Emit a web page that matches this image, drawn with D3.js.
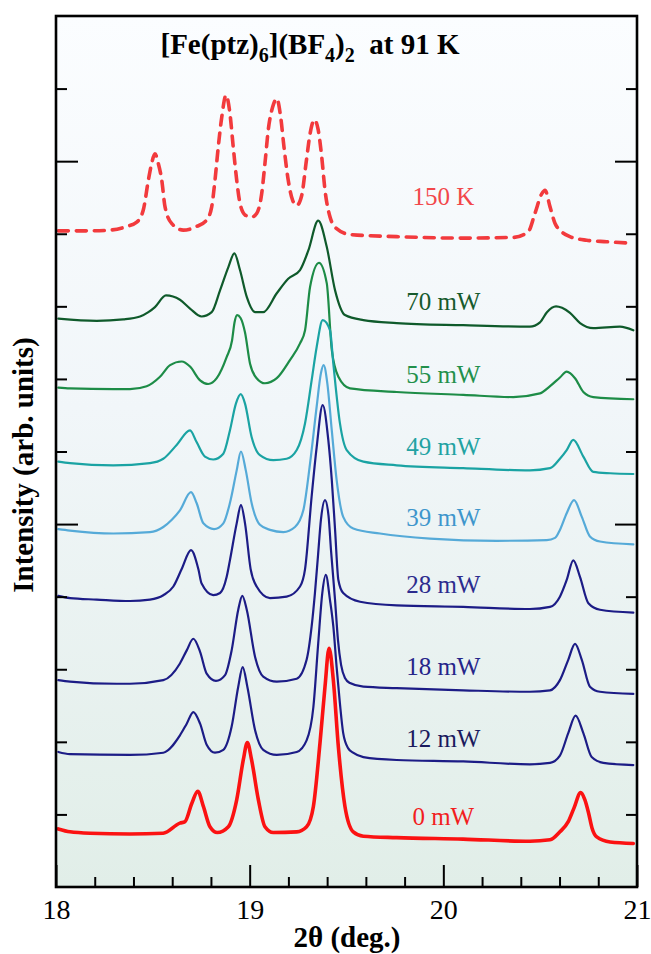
<!DOCTYPE html>
<html>
<head>
<meta charset="utf-8">
<script src="https://cdn.jsdelivr.net/npm/d3@7"></script>
<style>
  html, body { margin: 0; padding: 0; background: #ffffff; }
  svg { display: block; }
  text { font-family: "Liberation Serif", "Times New Roman", serif; }
</style>
</head>
<body>
<svg id="chart" width="651" height="954"></svg>
<script>
// Powder diffraction patterns, 2θ (deg.) vs offset intensity (arb. units)
const pattern150K = [
  [18.012, 9.04], [18.176, 9.04], [18.279, 9.05], [18.365, 9.10], [18.417, 9.16],
  [18.451, 9.33], [18.477, 9.74], [18.494, 9.97], [18.511, 10.10], [18.528, 9.97],
  [18.546, 9.74], [18.563, 9.37], [18.598, 9.14], [18.657, 9.05], [18.726, 9.10],
  [18.778, 9.19], [18.804, 9.37], [18.821, 9.74], [18.838, 10.20], [18.856, 10.61],
  [18.878, 10.91], [18.898, 10.66], [18.915, 10.20], [18.933, 9.74], [18.950, 9.42],
  [18.976, 9.26], [19.010, 9.23], [19.036, 9.28], [19.062, 9.55], [19.079, 9.97],
  [19.096, 10.43], [19.119, 10.75], [19.140, 10.86], [19.160, 10.61], [19.177, 10.20],
  [19.199, 9.74], [19.222, 9.46], [19.243, 9.39], [19.269, 9.53], [19.291, 9.97],
  [19.312, 10.38], [19.334, 10.57], [19.354, 10.43], [19.372, 10.06], [19.389, 9.60],
  [19.415, 9.23], [19.449, 9.07], [19.518, 8.99], [19.759, 8.96], [20.103, 8.94],
  [20.361, 8.95], [20.439, 9.03], [20.473, 9.28], [20.508, 9.55], [20.525, 9.60],
  [20.551, 9.37], [20.577, 9.14], [20.602, 9.05], [20.654, 8.96], [20.740, 8.91],
  [20.843, 8.89], [20.964, 8.87]
];

const pattern70mW = [
  [18.012, 7.83], [18.210, 7.80], [18.347, 7.82], [18.434, 7.86], [18.477, 7.92],
  [18.511, 7.99], [18.568, 8.15], [18.640, 8.09], [18.692, 7.97], [18.752, 7.86],
  [18.804, 7.92], [18.847, 8.22], [18.890, 8.54], [18.921, 8.73], [18.950, 8.50],
  [18.985, 8.13], [19.028, 7.92], [19.070, 7.92], [19.140, 8.18], [19.199, 8.38],
  [19.260, 8.50], [19.303, 8.77], [19.354, 9.18], [19.398, 8.82], [19.441, 8.22],
  [19.492, 7.88], [19.587, 7.81], [19.759, 7.77], [20.103, 7.74], [20.447, 7.72],
  [20.499, 7.78], [20.535, 7.92], [20.582, 8.00], [20.613, 7.98], [20.654, 7.91],
  [20.706, 7.77], [20.774, 7.70], [20.912, 7.72], [20.981, 7.67]
];

const pattern55mW = [
  [18.012, 6.88], [18.072, 6.87], [18.296, 6.86], [18.382, 6.86], [18.468, 6.90],
  [18.537, 7.03], [18.589, 7.19], [18.649, 7.24], [18.692, 7.17], [18.744, 6.98],
  [18.786, 6.93], [18.830, 7.01], [18.881, 7.30], [18.909, 7.53], [18.922, 7.78],
  [18.935, 7.88], [18.953, 7.84], [18.976, 7.64], [19.002, 7.21], [19.036, 7.01],
  [19.079, 6.94], [19.140, 7.01], [19.208, 7.26], [19.260, 7.49], [19.286, 7.67],
  [19.312, 8.27], [19.358, 8.60], [19.398, 8.32], [19.424, 7.40], [19.458, 7.03],
  [19.518, 6.87], [19.759, 6.82], [20.103, 6.78], [20.361, 6.75], [20.499, 6.80],
  [20.551, 6.90], [20.602, 7.02], [20.637, 7.10], [20.680, 7.01], [20.723, 6.82],
  [20.774, 6.75], [20.981, 6.72]
];

const pattern49mW = [
  [18.012, 5.86], [18.072, 5.84], [18.296, 5.81], [18.485, 5.84], [18.554, 5.90],
  [18.623, 6.09], [18.692, 6.29], [18.726, 6.13], [18.769, 5.93], [18.812, 5.89],
  [18.864, 5.97], [18.898, 6.29], [18.929, 6.66], [18.954, 6.79], [18.976, 6.66],
  [19.010, 6.20], [19.053, 5.95], [19.122, 5.88], [19.191, 5.90], [19.243, 6.02],
  [19.286, 6.39], [19.320, 6.98], [19.346, 7.44], [19.377, 7.81], [19.415, 7.67],
  [19.432, 7.21], [19.466, 6.39], [19.501, 6.02], [19.587, 5.86], [19.759, 5.81],
  [20.103, 5.77], [20.447, 5.74], [20.551, 5.77], [20.602, 5.90], [20.637, 6.02],
  [20.671, 6.16], [20.723, 5.93], [20.774, 5.72], [20.861, 5.70], [20.981, 5.69]
];

const pattern39mW = [
  [18.012, 4.93], [18.072, 4.91], [18.296, 4.87], [18.485, 4.89], [18.554, 4.96],
  [18.598, 5.06], [18.640, 5.19], [18.697, 5.44], [18.726, 5.29], [18.761, 5.01],
  [18.816, 4.93], [18.864, 5.01], [18.898, 5.29], [18.933, 5.74], [18.955, 6.00],
  [18.980, 5.74], [19.010, 5.29], [19.053, 4.99], [19.105, 4.92], [19.174, 4.89],
  [19.234, 4.96], [19.277, 5.19], [19.312, 5.84], [19.346, 6.62], [19.368, 7.08],
  [19.382, 7.19], [19.401, 6.94], [19.424, 6.29], [19.449, 5.61], [19.483, 5.10],
  [19.535, 4.94], [19.673, 4.87], [19.931, 4.80], [20.276, 4.77], [20.534, 4.78],
  [20.577, 4.81], [20.602, 4.92], [20.637, 5.15], [20.675, 5.33], [20.715, 5.10],
  [20.757, 4.83], [20.809, 4.76], [20.981, 4.72]
];

const pattern28mW = [
  [18.012, 4.01], [18.072, 3.98], [18.210, 3.96], [18.382, 3.94], [18.485, 3.96],
  [18.554, 4.02], [18.606, 4.14], [18.649, 4.38], [18.697, 4.64], [18.735, 4.38],
  [18.752, 4.18], [18.812, 4.02], [18.847, 4.05], [18.881, 4.27], [18.898, 4.50],
  [18.933, 5.01], [18.955, 5.26], [18.976, 5.01], [19.005, 4.38], [19.036, 4.14],
  [19.105, 3.98], [19.191, 4.00], [19.260, 4.14], [19.286, 4.38], [19.320, 5.38],
  [19.346, 6.06], [19.377, 6.64], [19.406, 6.16], [19.424, 5.61], [19.441, 4.92],
  [19.458, 4.23], [19.483, 4.05], [19.570, 3.93], [19.759, 3.88], [20.103, 3.86],
  [20.447, 3.83], [20.551, 3.86], [20.602, 4.00], [20.637, 4.23], [20.671, 4.50],
  [20.706, 4.27], [20.749, 3.91], [20.809, 3.82], [20.981, 3.78]
];

const pattern18mW = [
  [18.012, 2.85], [18.072, 2.83], [18.313, 2.80], [18.382, 2.80], [18.554, 2.85],
  [18.640, 3.08], [18.675, 3.26], [18.709, 3.42], [18.744, 3.24], [18.778, 2.94],
  [18.826, 2.84], [18.873, 2.92], [18.907, 3.26], [18.941, 3.82], [18.962, 4.01],
  [18.985, 3.82], [19.028, 3.17], [19.070, 2.90], [19.140, 2.83], [19.243, 2.87],
  [19.294, 3.13], [19.320, 3.59], [19.337, 4.05], [19.353, 4.57], [19.368, 5.06],
  [19.389, 5.33], [19.407, 5.12], [19.420, 4.64], [19.441, 3.95], [19.456, 3.40],
  [19.472, 3.06], [19.492, 2.88], [19.518, 2.81], [19.587, 2.76], [19.759, 2.74],
  [20.103, 2.71], [20.447, 2.69], [20.551, 2.71], [20.602, 2.85], [20.645, 3.13],
  [20.680, 3.35], [20.715, 3.13], [20.757, 2.76], [20.809, 2.69], [20.981, 2.66]
];

const pattern12mW = [
  [18.012, 1.86], [18.072, 1.83], [18.382, 1.82], [18.554, 1.85], [18.640, 2.09],
  [18.675, 2.25], [18.709, 2.41], [18.744, 2.25], [18.778, 1.96], [18.821, 1.85],
  [18.864, 1.89], [18.907, 2.21], [18.941, 2.76], [18.964, 3.03], [18.988, 2.76],
  [19.028, 2.16], [19.070, 1.89], [19.140, 1.82], [19.243, 1.86], [19.294, 2.02],
  [19.329, 2.48], [19.354, 3.36], [19.375, 4.05], [19.393, 4.30], [19.415, 3.95],
  [19.432, 3.59], [19.449, 3.03], [19.466, 2.53], [19.483, 2.12], [19.509, 1.91],
  [19.534, 1.85], [19.587, 1.79], [19.759, 1.75], [20.103, 1.73], [20.447, 1.69],
  [20.551, 1.71], [20.602, 1.81], [20.645, 2.12], [20.683, 2.36], [20.723, 2.12],
  [20.766, 1.79], [20.826, 1.71], [20.981, 1.68]
];

const pattern0mW = [
  [18.012, 0.80], [18.072, 0.76], [18.176, 0.74], [18.382, 0.73], [18.553, 0.74],
  [18.640, 0.88], [18.666, 0.90], [18.701, 1.15], [18.732, 1.32], [18.761, 1.11],
  [18.795, 0.83], [18.833, 0.75], [18.890, 0.83], [18.933, 1.20], [18.967, 1.75],
  [18.988, 1.99], [19.010, 1.75], [19.045, 1.20], [19.079, 0.83], [19.122, 0.75],
  [19.243, 0.76], [19.294, 0.83], [19.329, 1.11], [19.363, 1.98], [19.389, 2.76],
  [19.410, 3.29], [19.432, 2.85], [19.458, 1.93], [19.492, 1.11], [19.535, 0.76],
  [19.587, 0.70], [19.759, 0.68], [20.102, 0.66], [20.447, 0.63], [20.551, 0.65],
  [20.602, 0.76], [20.645, 0.90], [20.675, 1.09], [20.709, 1.30], [20.731, 1.20],
  [20.749, 1.03], [20.768, 0.81], [20.792, 0.69], [20.861, 0.62], [20.981, 0.60]
];

const seriesNames = ["150 K", "70 mW", "55 mW", "49 mW", "39 mW", "28 mW", "18 mW", "12 mW", "0 mW"];
const seriesData = [pattern150K, pattern70mW, pattern55mW, pattern49mW, pattern39mW,
                    pattern28mW, pattern18mW, pattern12mW, pattern0mW];
// vertical anchor (intensity units) of each trace's label, placed at 2θ = 20.0
const labelLevels = [9.39, 7.95, 6.94, 5.95, 4.97, 4.05, 2.92, 1.93, 0.85];

const xMajorTicks = [18, 19, 20, 21];
const xMinorTicks = [18.2, 18.4, 18.6, 18.8, 19.2, 19.4, 19.6, 19.8, 20.2, 20.4, 20.6, 20.8];
const yMajorTicks = [5, 10];
const yMinorTicks = [1, 2, 3, 4, 6, 7, 8, 9, 11];

const lineColors = ["#f23a3d", "#0f5a2b", "#1d8c47", "#1aa3a3", "#55aad8",
                    "#1c1c86", "#1c1c86", "#1c1c86", "#fb1212"];
const labelColors = ["#f2474a", "#165a2d", "#22904b", "#22a2a2", "#3e96cc",
                     "#2c2c8e", "#25258a", "#1a1a5e", "#f21e1e"];

const svg = d3.select("#chart");
const margin = { left: 56, right: 14, top: 16, bottom: 67 };
const W = 651, H = 954;
const plotW = W - margin.left - margin.right;
const plotH = H - margin.top - margin.bottom;

const x = d3.scaleLinear().domain([18, 21]).range([margin.left, margin.left + plotW]);
const y = d3.scaleLinear().domain([0, 12]).range([margin.top + plotH, margin.top]);

// background gradient
const defs = svg.append("defs");
const grad = defs.append("linearGradient")
  .attr("id", "bg").attr("x1", 0).attr("y1", 0).attr("x2", 0).attr("y2", 1);
grad.append("stop").attr("offset", "0%").attr("stop-color", "#fbfdff");
grad.append("stop").attr("offset", "45%").attr("stop-color", "#f1f6f9");
grad.append("stop").attr("offset", "100%").attr("stop-color", "#e1eee8");

defs.append("clipPath").attr("id", "plotclip")
  .append("rect")
  .attr("x", margin.left).attr("y", margin.top)
  .attr("width", plotW).attr("height", plotH);

svg.append("rect")
  .attr("x", margin.left).attr("y", margin.top)
  .attr("width", plotW).attr("height", plotH)
  .attr("fill", "url(#bg)");

// traces
const line = d3.line()
  .x(d => x(d[0]))
  .y(d => y(d[1]))
  .curve(d3.curveMonotoneX);

const traces = svg.append("g").attr("clip-path", "url(#plotclip)");
seriesData.forEach((data, i) => {
  const p = traces.append("path")
    .datum(data)
    .attr("d", line)
    .attr("fill", "none")
    .attr("stroke", lineColors[i])
    .attr("stroke-linejoin", "round")
    .attr("stroke-linecap", "round");
  if (i === 0) {
    p.attr("stroke-width", 3.6).attr("stroke-dasharray", "10,8");
  } else if (i === seriesData.length - 1) {
    p.attr("stroke-width", 3.6);
  } else {
    p.attr("stroke-width", 2.2);
  }
});

// trace labels
svg.append("g").selectAll("text")
  .data(seriesNames)
  .join("text")
  .attr("x", x(20.0))
  .attr("y", (d, i) => y(labelLevels[i]))
  .attr("text-anchor", "middle")
  .attr("font-size", 25)
  .attr("fill", (d, i) => labelColors[i])
  .text(d => d);

// axes with inward ticks
function styleAxis(g) {
  g.select(".domain").remove();
  g.selectAll(".tick line").attr("stroke", "#000").attr("stroke-width", 2);
}

svg.append("g")
  .attr("transform", `translate(${margin.left},0)`)
  .call(d3.axisLeft(y).tickValues(yMinorTicks).tickSize(-11).tickFormat(""))
  .call(styleAxis);
svg.append("g")
  .attr("transform", `translate(${margin.left},0)`)
  .call(d3.axisLeft(y).tickValues(yMajorTicks).tickSize(-22).tickFormat(""))
  .call(styleAxis);
svg.append("g")
  .attr("transform", `translate(${margin.left + plotW},0)`)
  .call(d3.axisRight(y).tickValues(yMinorTicks).tickSize(-11).tickFormat(""))
  .call(styleAxis);
svg.append("g")
  .attr("transform", `translate(${margin.left + plotW},0)`)
  .call(d3.axisRight(y).tickValues(yMajorTicks).tickSize(-22).tickFormat(""))
  .call(styleAxis);

const bottom = margin.top + plotH;
svg.append("g")
  .attr("transform", `translate(0,${bottom})`)
  .call(d3.axisBottom(x).tickValues(xMinorTicks).tickSize(-10).tickFormat(""))
  .call(styleAxis);
const xMaj = svg.append("g")
  .attr("transform", `translate(0,${bottom})`)
  .call(d3.axisBottom(x).tickValues(xMajorTicks).tickSize(-22).tickPadding(12).tickFormat(d3.format("d")))
  .call(styleAxis);
xMaj.selectAll(".tick text")
  .attr("fill", "#000")
  .attr("font-size", 28)
  .attr("font-family", "'Liberation Serif', 'Times New Roman', serif");

// frame
svg.append("rect")
  .attr("x", margin.left).attr("y", margin.top)
  .attr("width", plotW).attr("height", plotH)
  .attr("fill", "none").attr("stroke", "#000").attr("stroke-width", 2.6);

// axis titles
svg.append("text")
  .attr("x", 347)
  .attr("y", 947)
  .attr("text-anchor", "middle")
  .attr("font-size", 29).attr("font-weight", "bold")
  .text("2θ (deg.)");

svg.append("text")
  .attr("transform", `translate(33,465) rotate(-90)`)
  .attr("text-anchor", "middle")
  .attr("font-size", 29).attr("font-weight", "bold")
  .text("Intensity (arb. units)");

// title with subscripts
const title = svg.append("text")
  .attr("x", 310).attr("y", 54)
  .attr("text-anchor", "middle")
  .attr("font-size", 29).attr("font-weight", "bold");
title.append("tspan").text("[Fe(ptz)");
title.append("tspan").attr("font-size", 20).attr("dy", 8).text("6");
title.append("tspan").attr("dy", -8).text("](BF");
title.append("tspan").attr("font-size", 20).attr("dy", 8).text("4");
title.append("tspan").attr("dy", -8).text(")");
title.append("tspan").attr("font-size", 20).attr("dy", 8).text("2");
title.append("tspan").attr("dy", -8).text("\u00a0 at 91 K");
</script>
</body>
</html>
